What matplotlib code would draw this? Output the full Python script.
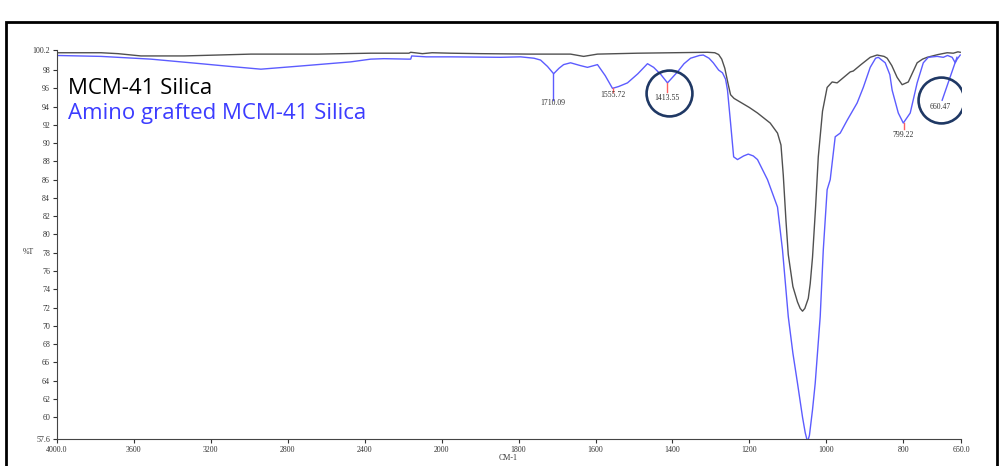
import numpy as np
import matplotlib
matplotlib.use('Agg')
import matplotlib.pyplot as plt
from matplotlib.patches import Rectangle

# FTIR spectra, wavenumber (cm-1) vs %T
silica_wn = [4000, 3771, 3683, 3564, 3340, 3164, 2992, 2644, 2369, 2170, 2161,
             2100, 2050, 1977, 1900, 1769, 1665, 1631, 1595, 1491, 1400, 1309,
             1290, 1280, 1272, 1264, 1255, 1249, 1240, 1228, 1200, 1179, 1146,
             1127, 1118, 1112, 1105, 1099, 1087, 1075, 1068, 1062, 1056, 1047,
             1042, 1036, 1028, 1021, 1010, 998, 985, 972, 955, 938, 930, 910,
             886, 868, 850, 842, 830, 816, 803, 787, 775, 764, 750, 738, 710,
             686, 670, 658, 652]
silica_T = [99.9, 99.9, 99.8, 99.55, 99.55, 99.65, 99.75, 99.75, 99.85, 99.85, 99.95,
            99.8, 99.9, 99.85, 99.8, 99.75, 99.75, 99.5, 99.75, 99.85, 99.9, 99.95,
            99.9, 99.7, 99.2, 98.2, 96.4, 95.3, 94.9, 94.6, 93.9, 93.3, 92.2,
            91.1, 89.8, 86.5, 81.5, 77.8, 74.3, 72.6, 71.9, 71.6, 71.9, 73.0,
            74.6, 77.5, 83.0, 88.5, 93.5, 96.1, 96.7, 96.6, 97.2, 97.8, 97.9, 98.6,
            99.4, 99.65, 99.5, 99.3, 98.5, 97.2, 96.4, 96.7, 97.8, 98.8, 99.2, 99.4, 99.7,
            99.9, 99.85, 100.0, 99.95]

amino_wn = [4000, 3771, 3512, 3252, 3100, 2940, 2732, 2473, 2369, 2300, 2175,
            2161, 2156, 2080, 1977, 1847, 1795, 1760, 1743, 1725, 1709, 1695,
            1683, 1665, 1640, 1621, 1595, 1575, 1556, 1540, 1517, 1490, 1465,
            1449, 1430, 1413, 1400, 1387, 1370, 1353, 1330, 1320, 1305, 1294,
            1280, 1270, 1262, 1257, 1249, 1241, 1231, 1215, 1203, 1190, 1179,
            1153, 1127, 1114, 1099, 1087, 1075, 1062, 1055, 1049, 1044, 1036,
            1029, 1016, 1008, 998, 990, 977, 964, 946, 920, 904, 886, 872, 865,
            847, 835, 829, 813, 800, 782, 764, 748, 735, 712, 696, 685, 673,
            665, 660, 652]
amino_T = [99.6, 99.5, 99.2, 98.7, 98.4, 98.1, 98.45, 98.9, 99.2, 99.25, 99.2,
           99.2, 99.55, 99.45, 99.45, 99.4, 99.45, 99.3, 99.1, 98.4, 97.6, 98.2,
           98.6, 98.8, 98.5, 98.3, 98.6, 97.4, 96.0, 96.2, 96.6, 97.6, 98.7,
           98.3, 97.5, 96.6, 97.2, 97.8, 98.7, 99.3, 99.6, 99.65, 99.3, 98.8,
           98.0, 97.7, 97.0, 95.8, 92.2, 88.5, 88.2, 88.6, 88.8, 88.6, 88.2,
           86.0, 83.0, 78.3, 71.0, 67.0, 63.7, 60.0, 58.3, 57.3, 58.0, 60.8,
           63.7, 71.0, 78.3, 84.9, 86.0, 90.7, 91.1, 92.5, 94.4, 96.1, 98.3, 99.3, 99.4,
           98.8, 97.5, 95.8, 93.3, 92.2, 93.3, 96.6, 98.8, 99.4, 99.5, 99.4, 99.6, 99.4,
           98.8, 99.2, 99.65]

# picked peaks on the amino grafted spectrum
peak_wn = [1710.09, 1555.72, 1413.55, 799.22, 660.47]
peak_T = [97.6, 96.0, 96.6, 92.2, 99.4]
peak_end_wn = [1710.09, 1555.72, 1413.55, 799.22, 699]
peak_end_T = [94.7, 95.6, 95.6, 91.5, 94.7]
peak_line_col = ['#5c5cff', '#ff6060', '#ff6060', '#ff6060', '#5c5cff']
label_wn = [1710.09, 1555.72, 1413.55, 799.22, 704]
label_T = [94.45, 95.3, 94.95, 90.85, 93.95]

# circled peaks
circle_wn = [1410, 701]
circle_T = [95.5, 94.7]

xticks = [4000, 3600, 3200, 2800, 2400, 2000, 1800, 1600, 1400, 1200, 1000, 800, 650]
xtick_labels = ['4000.0', '3600', '3200', '2800', '2400', '2000', '1800', '1600',
                '1400', '1200', '1000', '800', '650.0']
yticks = [57.6] + list(range(60, 100, 2)) + [100.2]
ytick_labels = ['57.6'] + [str(v) for v in range(60, 100, 2)] + ['100.2']


# scale doubles below 2000 cm-1
def fwd(wn):
    wn = np.asarray(wn, dtype=float)
    return np.where(wn < 2000, wn, 2000 + (wn - 2000) / 2)


def inv(u):
    u = np.asarray(u, dtype=float)
    return np.where(u < 2000, u, 2000 + (u - 2000) * 2)


fig = plt.figure(figsize=(10, 4.66), dpi=100)
ax = fig.add_axes([0.057, 0.0579, 0.904, 0.8348])
ax.set_xscale('function', functions=(fwd, inv))

ax.plot(silica_wn, silica_T, color='#505050', lw=1.0)
ax.plot(amino_wn, amino_T, color='#5c5cff', lw=1.0)

for i in range(len(peak_wn)):
    ax.plot([peak_wn[i], peak_end_wn[i]], [peak_T[i], peak_end_T[i]],
            color=peak_line_col[i], lw=1.0)
    ax.text(label_wn[i], label_T[i], '%.2f' % peak_wn[i], ha='center', va='center',
            fontsize=5.6, family='Liberation Serif', color='#333333')

ax.plot(circle_wn, circle_T, ls='none', marker='o', ms=33, mfc='none',
        mec='#1f3864', mew=1.9)

ax.set_xlim(4000, 650)
ax.set_ylim(57.6, 100.2)
ax.set_xticks(xticks)
ax.set_xticklabels(xtick_labels)
ax.set_yticks(yticks)
ax.set_yticklabels(ytick_labels)
ax.minorticks_off()
ax.tick_params(labelsize=5.7, colors='#333333', length=3, width=0.8, pad=2)
for lab in ax.get_xticklabels() + ax.get_yticklabels():
    lab.set_family('Liberation Serif')

ax.spines['top'].set_visible(False)
ax.spines['right'].set_visible(False)
ax.spines['left'].set_color('#444444')
ax.spines['bottom'].set_color('#444444')

fig.text(0.028, 0.46, '%T', fontsize=5.7, family='Liberation Serif', color='#333333',
         ha='center', va='center')
fig.text(0.508, 0.009, 'CM-1', fontsize=5.7, family='Liberation Serif', color='#333333',
         ha='center', va='bottom')

# sample names
ax.text(0.012, 0.902, 'MCM-41 Silica', transform=ax.transAxes, fontsize=16,
        family='Open Sans', color='black', va='center')
ax.text(0.012, 0.836, 'Amino grafted MCM-41 Silica', transform=ax.transAxes, fontsize=16,
        family='Open Sans', color='#3c3cff', va='center')

# outer frame
fig.patches.append(Rectangle((0.006, -0.1), 0.991, 0.9528 + 0.1, transform=fig.transFigure,
                             fill=False, ec='black', lw=2))

fig.savefig('out.png', dpi=100)
